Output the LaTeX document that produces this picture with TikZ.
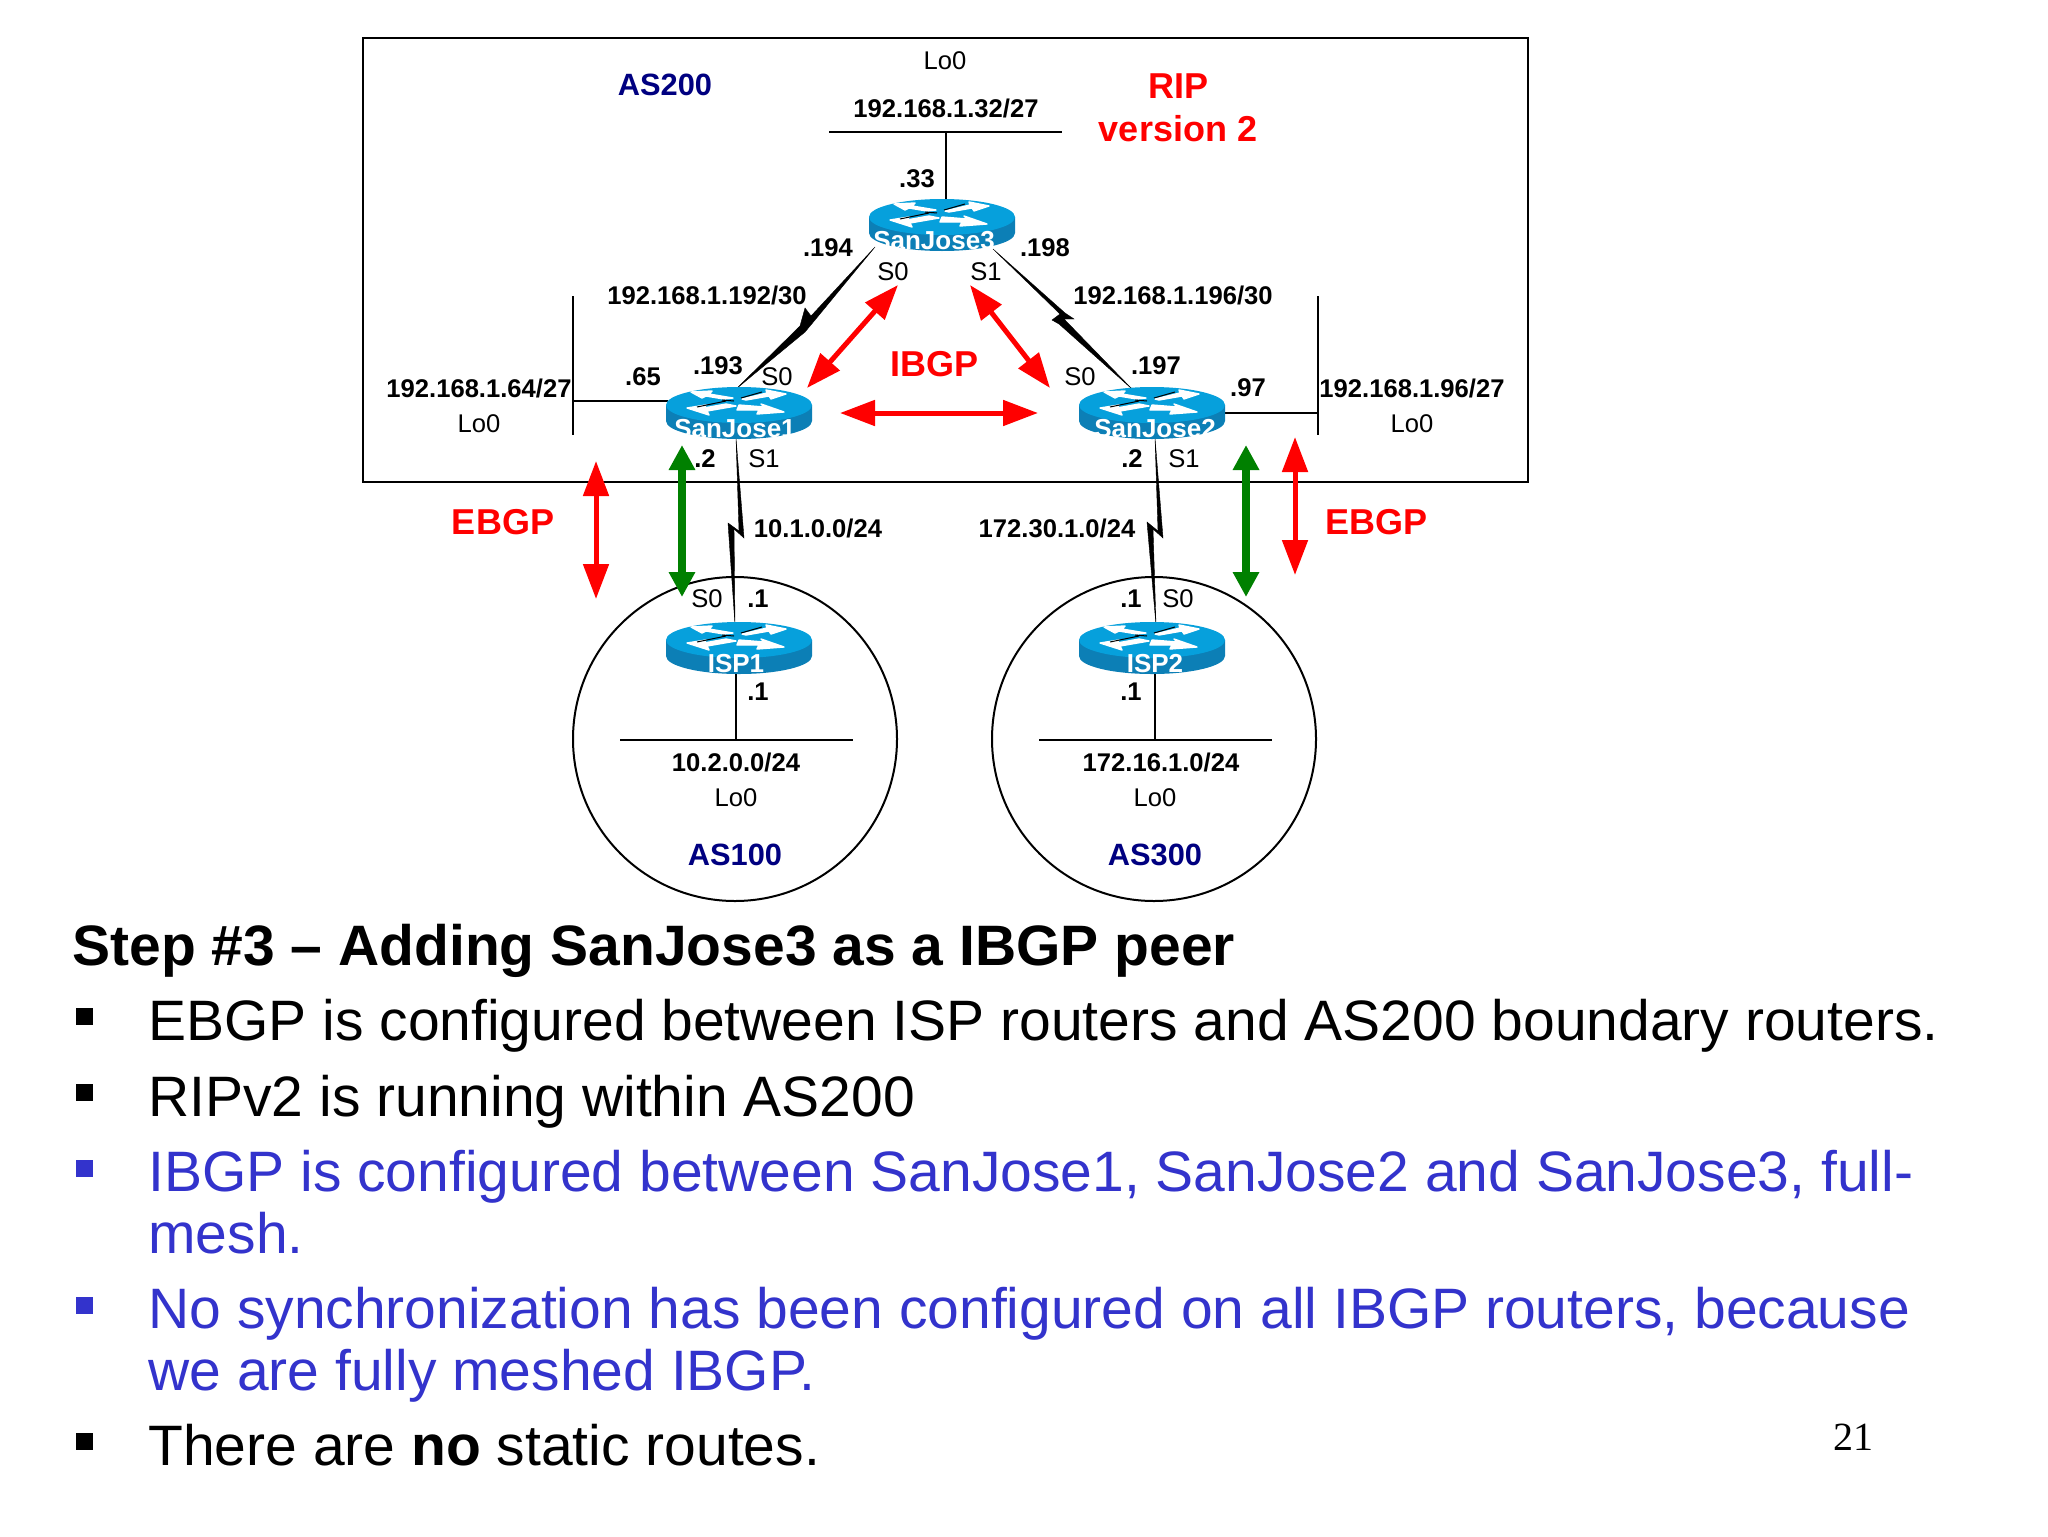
\documentclass[tikz,border=0pt]{standalone}
\usepackage{fontspec}
\setmainfont{Liberation Sans}
\newfontfamily\serifnum{Liberation Serif}
\usetikzlibrary{arrows.meta}
\definecolor{rtop}{HTML}{06A0DC}
\definecolor{rside}{HTML}{0C7FB6}
\definecolor{slideblue}{HTML}{3333CC}
\definecolor{asblue}{HTML}{000080}
\definecolor{gbgp}{HTML}{008000}
\tikzset{
  lab/.style={inner sep=0pt,font=\fontsize{12.8}{14}\selectfont\bfseries},
  ifc/.style={inner sep=0pt,font=\fontsize{12.8}{14}\selectfont},
  asname/.style={inner sep=0pt,text=asblue,font=\fontsize{15.4}{17}\selectfont\bfseries},
  redtxt/.style={inner sep=0pt,text=red,font=\fontsize{18}{20}\selectfont\bfseries},
  rname/.style={inner sep=0pt,text=white,font=\fontsize{13}{14}\selectfont\bfseries},
  wire/.style={draw=black,line width=0.9pt},
  serial/.style={fill=black,draw=black,line width=0.2pt,line join=miter},
  rbgp/.style={draw=red,line width=2.5pt,{Triangle[length=17.5pt,width=12.5pt]}-{Triangle[length=17.5pt,width=12.5pt]}},
  gebgp/.style={draw=gbgp,line width=4pt,{Triangle[length=12.5pt,width=12.5pt]}-{Triangle[length=12.5pt,width=12.5pt]}},
  body/.style={inner sep=0pt,anchor=base west,font=\fontsize{28.5}{30}\selectfont},
  rarrow/.style={fill=white,draw=white,line width=0.7pt,line join=round},
}
\newcommand{\router}[5]{% name, cx, top, label, label dx
  \begin{scope}[shift={(#2,#3)}]
    \fill[rside] (-73,18) -- (-73,34) arc[start angle=180,end angle=0,x radius=73,y radius=18] -- (73,18) -- cycle;
    \fill[rtop] (0,18) circle[x radius=73,y radius=18];
    \path[rarrow] (-48,5) -- (-27,4) -- (-30,7) -- (-6,11) -- (-15,12) -- (-33,9) -- (-37,11) -- cycle;
    \path[rarrow] (47,7) -- (27,3) -- (28,6) -- (3,12) -- (7,13) -- (30,9) -- (32,12) -- cycle;
    \path[rarrow] (-52,21) -- (-30,28) -- (-32,24) -- (-3,19) -- (-13,17) -- (-35,21) -- (-33,18) -- cycle;
    \path[rarrow] (45,25) -- (22,17) -- (25,20) -- (0,18) -- (-2,23) -- (20,23) -- (18,27) -- cycle;
    \draw[black,line width=0.5pt] (-17,13) -- (-5,14) (2,11) -- (23,5) (-42,20) -- (-13,14);
    \begin{scope}
      \clip (-73,18) -- (-73,34) arc[start angle=180,end angle=0,x radius=73,y radius=18] -- (73,18) -- cycle;
      \node[rname] (#1) at (#5,42) {#4};
    \end{scope}
  \end{scope}
}
\begin{document}
\begin{tikzpicture}[x=0.5pt,y=-0.5pt]
\useasboundingbox (0,0) rectangle (2048,1536);
\fill[white] (0,0) rectangle (2048,1536);
% AS boxes
\draw[line width=1pt] (363,38) rectangle (1528,482);
\draw[line width=1pt] (735,739) circle[radius=162];
\draw[line width=1pt] (1154,739) circle[radius=162];
% named points
\coordinate (lan3l) at (829,132); \coordinate (lan3r) at (1062,132);
\coordinate (lan3m) at (946,132); \coordinate (r3t) at (946,202);
\coordinate (lan1t) at (573,296); \coordinate (lan1b) at (573,435); \coordinate (lan1m) at (573,401); \coordinate (r1l) at (668,401);
\coordinate (lan2t) at (1318,296); \coordinate (lan2b) at (1318,435); \coordinate (lan2m) at (1318,413); \coordinate (r2r) at (1223,413);
\coordinate (lani1l) at (620,740); \coordinate (lani1r) at (853,740); \coordinate (lani1m) at (736,740); \coordinate (ri1b) at (736,670);
\coordinate (lani2l) at (1039,740); \coordinate (lani2r) at (1272,740); \coordinate (lani2m) at (1155,740); \coordinate (ri2b) at (1155,670);
\draw[wire] (lan3l) -- (lan3r) (lan3m) -- (r3t);
\draw[wire] (lan1t) -- (lan1b) (lan1m) -- (r1l);
\draw[wire] (lan2t) -- (lan2b) (lan2m) -- (r2r);
\draw[wire] (lani1l) -- (lani1r) (lani1m) -- (ri1b);
\draw[wire] (lani2l) -- (lani2r) (lani2m) -- (ri2b);
% serial links
\coordinate (a1) at (875,247); \coordinate (b1) at (736,389);
\path[serial] (a1) -- (815,320) -- (805,332) -- (b1) -- (800,326) -- (805,308) -- (811,316) -- cycle;
\coordinate (a2) at (993,249); \coordinate (b2) at (1132,389);
\path[serial] (a2) -- (1065,313) -- (1074,319) -- (1064,319) -- (b2) -- (1059,324) -- (1052,320) -- (1060,314) -- cycle;
\coordinate (a3) at (736,438); \coordinate (b3) at (735,625);
\path[serial] (a3) -- (744,538) -- (734,529) -- (b3) -- (728,523) -- (739,531) -- cycle;
\coordinate (a4) at (1155,438); \coordinate (b4) at (1156,625);
\path[serial] (a4) -- (1163,538) -- (1153,529) -- (b4) -- (1147,522) -- (1158,531) -- cycle;
% routers
\router{SJ3}{942}{199}{SanJose3}{-8}
\router{SJ1}{739}{387}{SanJose1}{-4}
\router{SJ2}{1152}{387}{SanJose2}{3}
\router{ISP1}{739}{622}{ISP1}{-3}
\router{ISP2}{1152}{622}{ISP2}{3}
% BGP arrows
\coordinate (i1) at (898,285); \coordinate (i2) at (807,388);
\coordinate (i3) at (970,285); \coordinate (i4) at (1050,388);
\coordinate (i5) at (840,413); \coordinate (i6) at (1038,413);
\draw[rbgp] (i1) -- (i2);
\draw[rbgp] (i3) -- (i4);
\draw[rbgp] (i5) -- (i6);
\coordinate (e1) at (596,461); \coordinate (e2) at (596,599);
\coordinate (e3) at (1295,437); \coordinate (e4) at (1295,575);
\coordinate (g1) at (682,445); \coordinate (g2) at (682,597);
\coordinate (g3) at (1246,445); \coordinate (g4) at (1246,597);
\draw[rbgp] (e1) -- (e2);
\draw[rbgp] (e3) -- (e4);
\draw[gebgp] (g1) -- (g2);
\draw[gebgp] (g3) -- (g4);
% labels
\node[ifc] (t1) at (945,61) {Lo0};
\node[lab] (t2) at (946,108) {192.168.1.32/27};
\node[asname] (t3) at (665,85) {AS200};
\node[redtxt] (t4) at (1178,86) {RIP};
\node[redtxt] (t5) at (1178,129) {version 2};
\node[lab] (t6) at (917,179) {.33};
\node[lab] (t7) at (828,248) {.194};
\node[lab] (t8) at (1045,248) {.198};
\node[ifc] (t9) at (893,272) {S0};
\node[ifc] (t10) at (986,272) {S1};
\node[lab] (t11) at (707,295) {192.168.1.192/30};
\node[lab] (t12) at (1173,295) {192.168.1.196/30};
\node[lab] (t13) at (718,366) {.193};
\node[ifc] (t14) at (777,377) {S0};
\node[redtxt] (t15) at (934,364) {IBGP};
\node[ifc] (t16) at (1080,377) {S0};
\node[lab] (t17) at (1156,366) {.197};
\node[lab] (t18) at (643,377) {.65};
\node[lab] (t19) at (1248,388) {.97};
\node[lab] (t20) at (479,388) {192.168.1.64/27};
\node[ifc] (t21) at (479,424) {Lo0};
\node[lab] (t22) at (1412,388) {192.168.1.96/27};
\node[ifc] (t23) at (1412,424) {Lo0};
\node[lab] (t24) at (705,459) {.2};
\node[ifc] (t25) at (764,459) {S1};
\node[lab] (t26) at (1132,459) {.2};
\node[ifc] (t27) at (1184,459) {S1};
\node[redtxt] (t28) at (503,522) {EBGP};
\node[redtxt] (t29) at (1376,522) {EBGP};
\node[lab] (t30) at (818,528) {10.1.0.0/24};
\node[lab] (t31) at (1057,528) {172.30.1.0/24};
\node[ifc] (t32) at (707,599) {S0};
\node[lab] (t33) at (758,599) {.1};
\node[lab] (t34) at (1131,599) {.1};
\node[ifc] (t35) at (1178,599) {S0};
\node[lab] (t36) at (758,692) {.1};
\node[lab] (t37) at (1131,692) {.1};
\node[lab] (t38) at (736,762) {10.2.0.0/24};
\node[ifc] (t39) at (736,798) {Lo0};
\node[lab] (t40) at (1161,762) {172.16.1.0/24};
\node[ifc] (t41) at (1155,798) {Lo0};
\node[asname] (t42) at (735,855) {AS100};
\node[asname] (t43) at (1155,855) {AS300};
% slide text
\node[body,font=\fontsize{28.5}{30}\selectfont\bfseries] (h) at (72,965) {Step \#3 – Adding SanJose3 as a IBGP peer};
\node[body] (l1) at (148,1040) {EBGP is configured between ISP routers and AS200 boundary routers.};
\node[body] (l2) at (148,1116) {RIPv2 is running within AS200};
\node[body,text=slideblue] (l3) at (148,1191) {IBGP is configured between SanJose1, SanJose2 and SanJose3, full-};
\node[body,text=slideblue] (l4) at (148,1253) {mesh.};
\node[body,text=slideblue] (l5) at (148,1328) {No synchronization has been configured on all IBGP routers, because};
\node[body,text=slideblue] (l6) at (148,1390) {we are fully meshed IBGP.};
\node[body] (l7) at (148,1465) {There are \textbf{no} static routes.};
\fill (76,1008) rectangle (93,1025);
\fill (76,1084) rectangle (93,1101);
\fill[slideblue] (76,1160) rectangle (93,1177);
\fill[slideblue] (76,1297) rectangle (93,1314);
\fill (76,1433) rectangle (93,1450);
\node[inner sep=0pt,font=\serifnum\fontsize{20}{22}\selectfont] (pg) at (1853,1437) {21};
\end{tikzpicture}
\end{document}
